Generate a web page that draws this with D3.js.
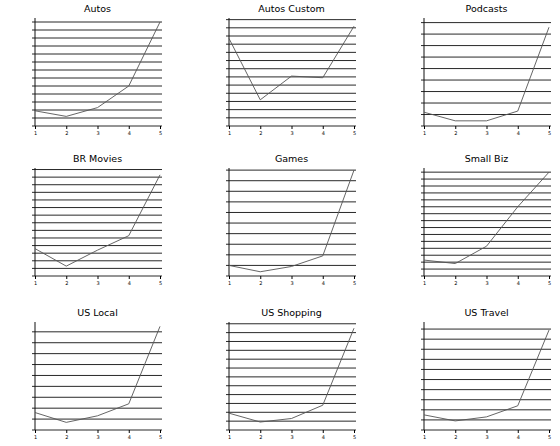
<!DOCTYPE html>
<html><head><meta charset="utf-8">
<script src="https://cdn.jsdelivr.net/npm/d3@7"></script>
<style>body{margin:0;background:#fff}text{font-family:"DejaVu Sans",sans-serif}</style>
</head><body><svg id="c" width="560" height="446"></svg>
<script>
const titles = ["Autos", "Autos Custom", "Podcasts", "BR Movies", "Games", "Small Biz", "US Local", "US Shopping", "US Travel"];
const xs = [1, 2, 3, 4, 5];
const autos = [1.9, 1.2, 2.3, 5, 13];
const autosCustom = [10.7, 3.2, 6.1, 5.9, 12.2];
const podcasts = [1.2, 0.45, 0.45, 1.3, 8.6];
const brMovies = [3.6, 1.3, 3.4, 5.3, 13.3];
const games = [1, 0.4, 0.9, 1.9, 10];
const smallBiz = [2.3, 1.8, 4.3, 10, 15];
const usLocal = [1.6, 0.7, 1.3, 2.4, 9.5];
const usShopping = [1.9, 0.9, 1.3, 2.8, 11.5];
const usTravel = [1.5, 0.9, 1.3, 2.4, 9.9];
const yMax = [13.5, 13.2, 9.4, 14.2, 10.2, 15.6, 9.9, 12.2, 10.7];
const series = [autos, autosCustom, podcasts, brMovies, games, smallBiz, usLocal, usShopping, usTravel];

const svg = d3.select("#c");
const colX = [35, 229, 424], rowY = [18, 168, 322], pw = 125, ph = 108;

series.forEach((vals, i) => {
  const g = svg.append("g").attr("transform", `translate(${colX[i % 3]},${rowY[Math.floor(i / 3)]})`);
  const x = d3.scaleLinear().domain([1, 5]).range([0, pw]);
  const y = d3.scaleLinear().domain([0, yMax[i]]).range([ph, 0]);
  const ticks = d3.range(0, yMax[i] + 0.001, 1);
  g.selectAll(".grid").data(ticks).join("line")
    .attr("x1", -3).attr("x2", pw + 2)
    .attr("y1", d => y(d)).attr("y2", d => y(d))
    .attr("stroke", "#111").attr("stroke-width", 0.9);
  g.append("line").attr("x1", 0).attr("x2", 0).attr("y1", 0).attr("y2", ph).attr("stroke", "#111");
  const xa = g.append("g").attr("transform", `translate(0,${ph})`)
    .call(d3.axisBottom(x).tickValues(xs).tickFormat(d3.format("d")).tickSize(3));
  xa.select(".domain").remove();
  xa.selectAll("text").attr("font-size", 5).attr("dy", "0.5em");
  g.append("path").datum(vals)
    .attr("d", d3.line().x((d, j) => x(xs[j])).y(d => y(d)))
    .attr("fill", "none").attr("stroke", "#555").attr("stroke-width", 0.9);
  g.append("text").attr("x", pw / 2).attr("y", -6).attr("text-anchor", "middle")
    .attr("font-size", 9.5).text(titles[i]);
});
</script></body></html>
